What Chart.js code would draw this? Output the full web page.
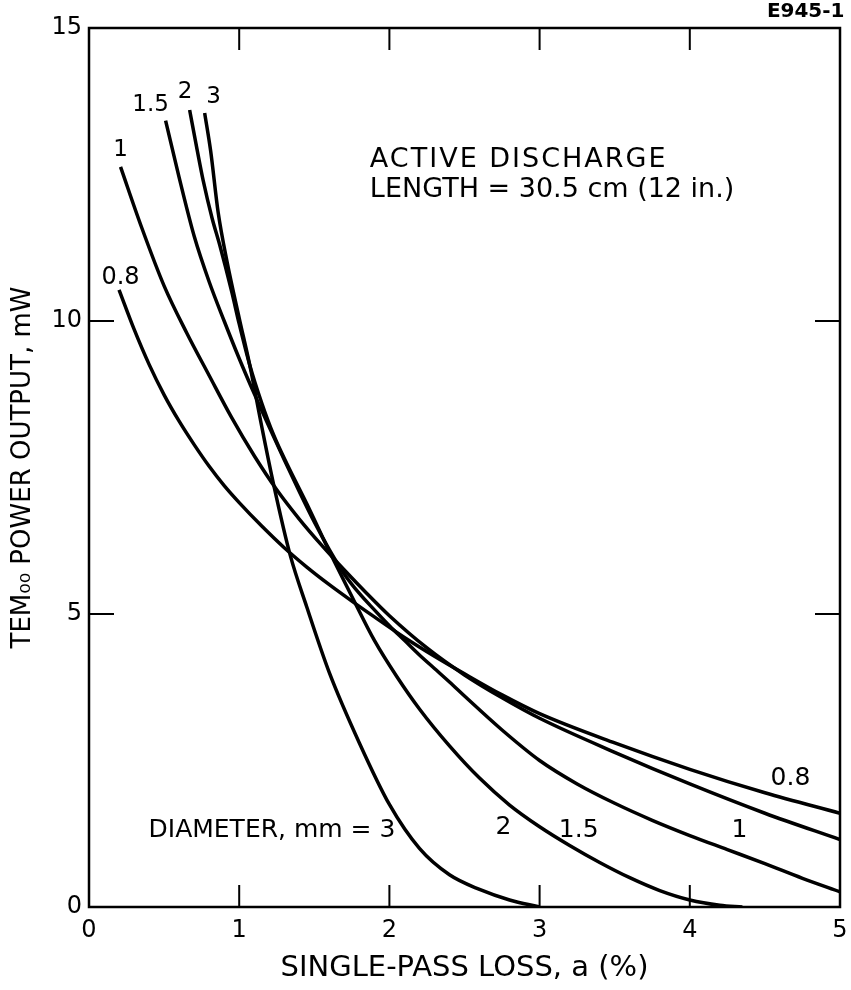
<!DOCTYPE html>
<html>
<head>
<meta charset="utf-8">
<script src="https://cdn.jsdelivr.net/npm/chart.js@4.4.1/dist/chart.umd.min.js"></script>
<style>
  html, body { margin: 0; padding: 0; background: #fff; }
  #wrap { width: 851px; height: 990px; position: relative; }
</style>
</head>
<body>
<div id="wrap"><canvas id="lossChart"></canvas></div>
<script>
// TEM00 output (mW) vs single-pass loss (%), one curve per bore diameter (mm)
const diameters = ['0.8', '1', '1.5', '2', '3'];

const loss08  = [0.2, 0.3, 0.4, 0.5, 0.6, 0.7, 0.8, 0.9, 1.0, 1.15, 1.3, 1.45, 1.6, 1.75, 1.9, 2.1, 2.3, 2.5, 2.75, 3.0, 3.5, 4.0, 4.5, 5.0];
const power08 = [10.53, 9.86, 9.26, 8.74, 8.29, 7.89, 7.52, 7.19, 6.9, 6.5, 6.13, 5.8, 5.5, 5.22, 4.95, 4.6, 4.28, 3.98, 3.62, 3.3, 2.8, 2.35, 1.95, 1.6];

const loss10  = [0.21, 0.35, 0.5, 0.65, 0.8, 0.95, 1.1, 1.25, 1.4, 1.55, 1.7, 1.85, 2.0, 2.25, 2.5, 2.75, 3.0, 3.5, 4.0, 4.5, 5.0];
const power10 = [12.63, 11.6, 10.6, 9.8, 9.07, 8.35, 7.7, 7.12, 6.62, 6.17, 5.75, 5.35, 4.97, 4.42, 3.96, 3.57, 3.22, 2.64, 2.1, 1.6, 1.15];

const loss15  = [0.51, 0.6, 0.7, 0.8, 0.9, 1.0, 1.1, 1.2, 1.3, 1.4, 1.5, 1.6, 1.7, 1.8, 1.9, 2.0, 2.1, 2.2, 2.3, 2.4, 2.5, 2.75, 3.0, 3.25, 3.5, 3.75, 4.0, 4.25, 4.5, 4.75, 5.0];
const power15 = [13.42, 12.45, 11.45, 10.67, 10.0, 9.36, 8.76, 8.19, 7.63, 7.09, 6.57, 6.1, 5.68, 5.35, 5.07, 4.8, 4.55, 4.3, 4.07, 3.84, 3.6, 3.02, 2.5, 2.1, 1.77, 1.48, 1.22, 0.98, 0.74, 0.49, 0.26];

const loss20  = [0.67, 0.72, 0.76, 0.82, 0.87, 0.95, 1.0, 1.07, 1.15, 1.23, 1.32, 1.45, 1.6, 1.75, 1.9, 2.05, 2.2, 2.4, 2.6, 2.8, 3.0, 3.2, 3.4, 3.6, 3.8, 4.0, 4.2, 4.35];
const power20 = [13.6, 12.92, 12.4, 11.75, 11.3, 10.5, 9.95, 9.25, 8.6, 8.05, 7.55, 6.88, 6.07, 5.3, 4.55, 3.93, 3.38, 2.75, 2.2, 1.74, 1.37, 1.05, 0.76, 0.5, 0.28, 0.12, 0.03, 0.0];

const loss30  = [0.77, 0.81, 0.86, 0.92, 1.0, 1.07, 1.15, 1.23, 1.34, 1.45, 1.6, 1.8, 2.0, 2.2, 2.4, 2.6, 2.8, 3.0];
const power30 = [13.55, 12.9, 11.85, 11.0, 10.05, 9.25, 8.2, 7.2, 6.0, 5.12, 4.0, 2.8, 1.75, 1.0, 0.55, 0.3, 0.12, 0.0];

const xTicks = [0, 1, 2, 3, 4, 5];
const yTicks = [0, 5, 10, 15];

// lettering placed in data units
const notes = [
    { text: 'E945-1', x: 5.03, y: 15.27, align: 'right', size: 20, bold: true },
    { text: 'ACTIVE DISCHARGE', x: 1.87, y: 12.75, align: 'left', size: 27, spacing: 2 },
    { text: 'LENGTH = 30.5 cm (12 in.)', x: 1.87, y: 12.24, align: 'left', size: 27 },
    { text: '1.5', x: 0.41, y: 13.69, align: 'center', size: 23 },
    { text: '2', x: 0.64, y: 13.9, align: 'center', size: 23 },
    { text: '3', x: 0.83, y: 13.82, align: 'center', size: 23 },
    { text: '1', x: 0.21, y: 12.92, align: 'center', size: 23 },
    { text: '0.8', x: 0.21, y: 10.73, align: 'center', size: 24 },
    { text: '0.8', x: 4.67, y: 2.2, align: 'center', size: 25 },
    { text: '1', x: 4.33, y: 1.31, align: 'center', size: 25 },
    { text: '1.5', x: 3.26, y: 1.31, align: 'center', size: 25 },
    { text: '2', x: 2.76, y: 1.35, align: 'center', size: 25 },
    { text: 'DIAMETER, mm = 3', x: 2.04, y: 1.31, align: 'right', size: 25 }
];

function pts(xs, ys) {
    return xs.map((v, i) => ({ x: v, y: ys[i] }));
}

const series = [
    pts(loss08, power08),
    pts(loss10, power10),
    pts(loss15, power15),
    pts(loss20, power20),
    pts(loss30, power30)
];

const FONT = '"DejaVu Sans", "Liberation Sans", sans-serif';

const frameTicks = {
    id: 'frameTicks',
    afterDatasetsDraw(chart) {
        const { ctx, chartArea: a, scales: { x, y } } = chart;
        ctx.save();
        ctx.strokeStyle = '#000';
        ctx.lineWidth = 2.5;
        ctx.strokeRect(a.left, a.top, a.right - a.left, a.bottom - a.top);
        ctx.lineWidth = 2;
        ctx.beginPath();
        xTicks.slice(1, -1).forEach(v => {
            const px = x.getPixelForValue(v);
            ctx.moveTo(px, a.bottom); ctx.lineTo(px, a.bottom - 22);
            ctx.moveTo(px, a.top); ctx.lineTo(px, a.top + 22);
        });
        yTicks.slice(1, -1).forEach(v => {
            const py = y.getPixelForValue(v);
            ctx.moveTo(a.left, py); ctx.lineTo(a.left + 25, py);
            ctx.moveTo(a.right, py); ctx.lineTo(a.right - 25, py);
        });
        ctx.stroke();

        ctx.fillStyle = '#000';
        ctx.textBaseline = 'middle';
        notes.forEach(n => {
            ctx.font = (n.bold ? 'bold ' : '') + n.size + 'px ' + FONT;
            ctx.letterSpacing = (n.spacing || 0) + 'px';
            ctx.textAlign = n.align;
            ctx.fillText(n.text, x.getPixelForValue(n.x), y.getPixelForValue(n.y));
        });
        ctx.restore();
    }
};

const ctx = document.getElementById('lossChart').getContext('2d');

new Chart(ctx, {
    type: 'line',
    data: {
        datasets: series.map((d, i) => ({
            label: diameters[i] + ' mm',
            data: d,
            borderColor: '#000',
            borderWidth: 3.5,
            pointRadius: 0,
            fill: false,
            cubicInterpolationMode: 'monotone'
        }))
    },
    options: {
        responsive: true,
        maintainAspectRatio: false,
        animation: false,
        layout: { padding: { top: 28, right: 11, left: 0, bottom: 0 } },
        plugins: {
            legend: { display: false },
            tooltip: { enabled: false }
        },
        scales: {
            x: {
                type: 'linear',
                min: 0,
                max: 5,
                afterFit: s => { s.height = 83; s.paddingLeft = 0; s.paddingRight = 0; },
                afterBuildTicks: s => { s.ticks = xTicks.map(v => ({ value: v })); },
                grid: { display: false, drawTicks: false },
                border: { display: false },
                ticks: { color: '#000', padding: 9, font: { family: FONT, size: 24 } },
                title: {
                    display: true,
                    text: 'SINGLE-PASS LOSS, a (%)',
                    color: '#000',
                    padding: { top: 4, bottom: 4 },
                    font: { family: FONT, size: 29 }
                }
            },
            y: {
                type: 'linear',
                min: 0,
                max: 15,
                afterFit: s => { s.width = 89; s.paddingTop = 0; s.paddingBottom = 0; },
                afterBuildTicks: s => { s.ticks = yTicks.map(v => ({ value: v })); },
                grid: { display: false, drawTicks: false },
                border: { display: false },
                ticks: { color: '#000', padding: 7, font: { family: FONT, size: 24 } },
                title: {
                    display: true,
                    text: 'TEM₀₀ POWER OUTPUT, mW',
                    color: '#000',
                    padding: { top: 8, bottom: 4 },
                    font: { family: FONT, size: 26 }
                }
            }
        }
    },
    plugins: [frameTicks]
});
</script>
</body>
</html>
